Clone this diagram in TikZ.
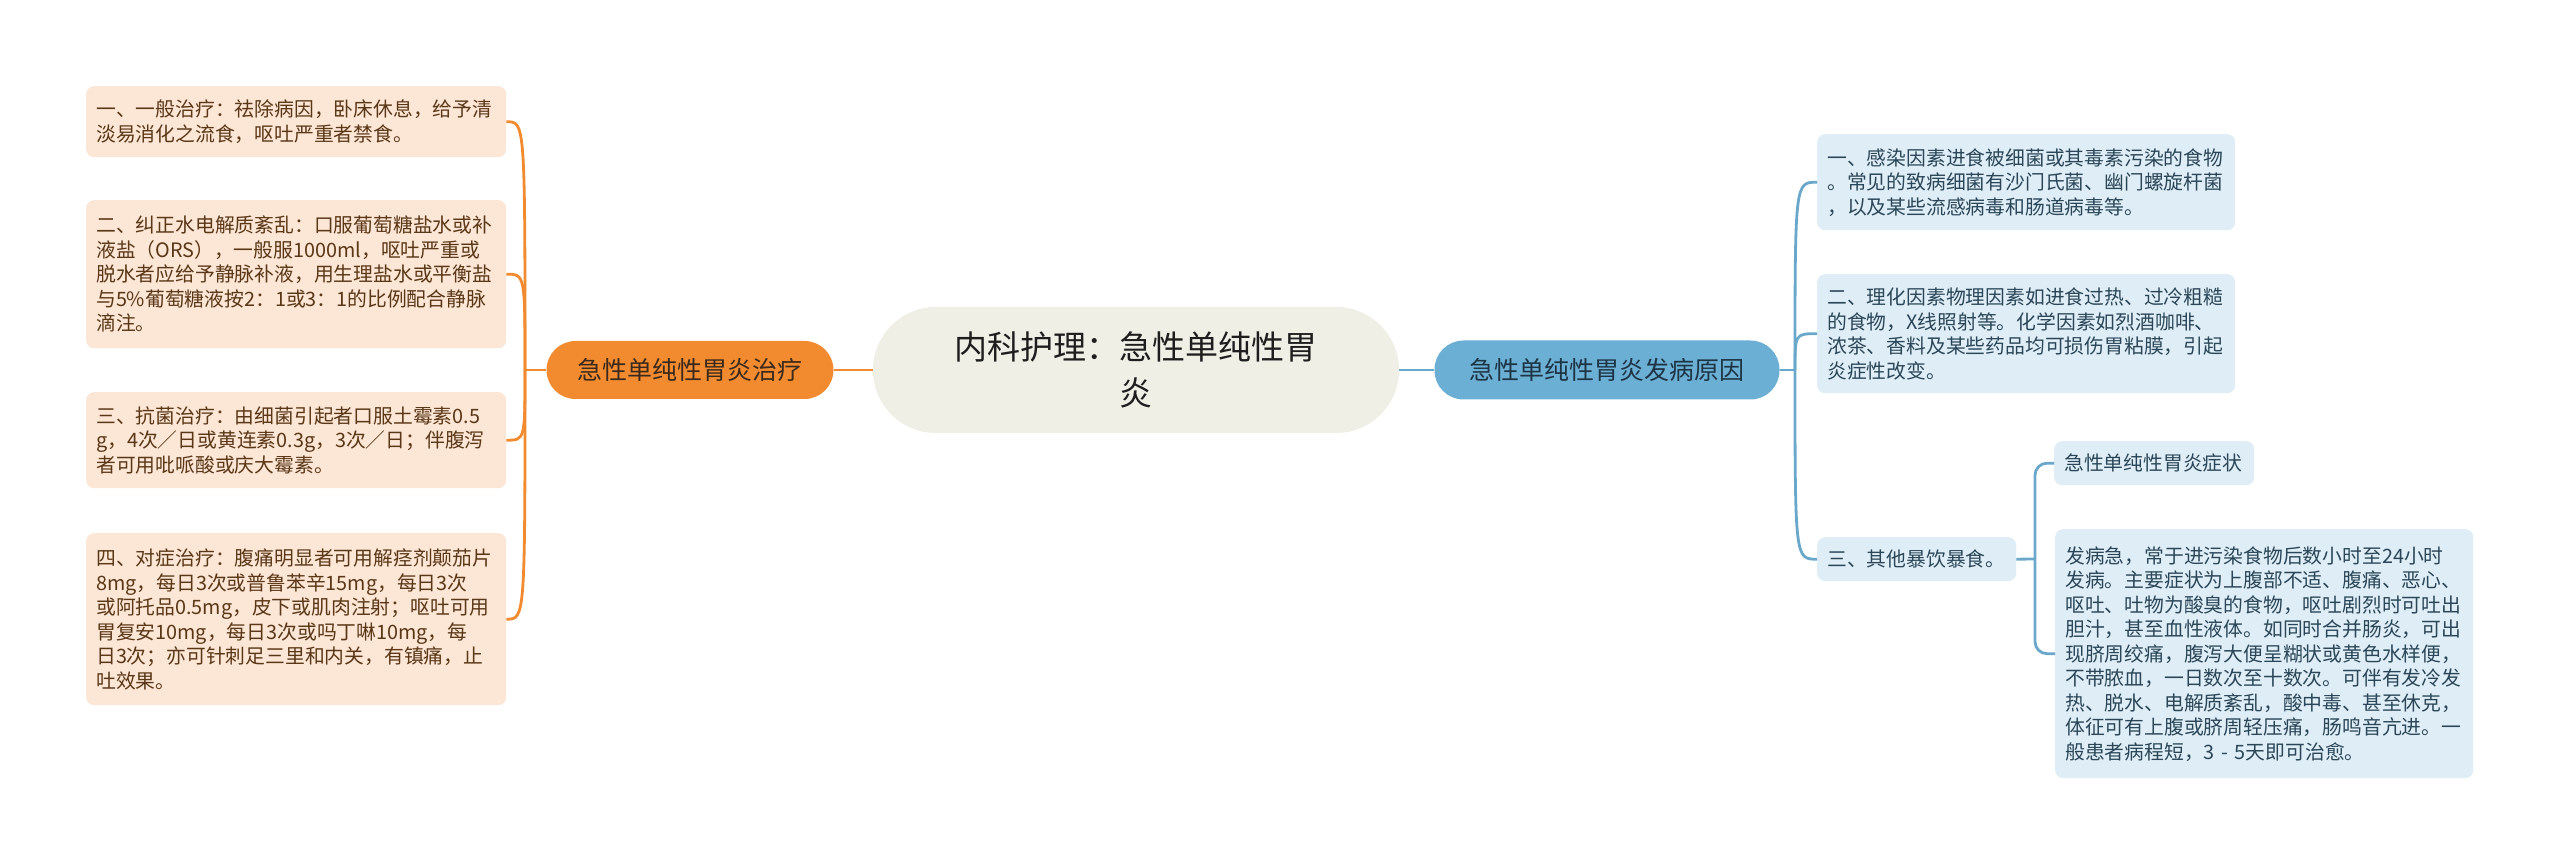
\documentclass[tikz,border=0pt]{standalone}
\usepackage{fontspec}
\setmainfont{Noto Sans CJK SC}
\definecolor{obox}{HTML}{FCE6D5}
\definecolor{otext}{HTML}{5A3717}
\definecolor{orng}{HTML}{F28B30}
\definecolor{ontext}{HTML}{3B2A1C}
\definecolor{cfill}{HTML}{EFEFE6}
\definecolor{ctext}{HTML}{1E1E1E}
\definecolor{bnode}{HTML}{6CAFD4}
\definecolor{bntext}{HTML}{1D3445}
\definecolor{bln}{HTML}{6AA8CB}
\definecolor{bbox}{HTML}{DFEEF6}
\definecolor{btext}{HTML}{2A4658}
\tikzset{
  lbox/.style={anchor=north west, fill=obox, text=otext, rounded corners=8pt,
    text width=400pt, inner xsep=10pt, inner ysep=2pt, align=left,
    font=\fontsize{19.8}{24.5}\selectfont},
  rbox/.style={anchor=north west, fill=bbox, text=btext, rounded corners=8pt,
    inner xsep=10pt, inner ysep=2pt, align=left,
    font=\fontsize{19.8}{24.5}\selectfont},
  oline/.style={draw=orng, line width=2.8pt},
  bline/.style={draw=bln, line width=2.8pt},
}
\begin{document}
\begin{tikzpicture}[x=1pt,y=-1pt]
\useasboundingbox[fill=white] (0,0) rectangle (2560,866);
% central
\node[fill=cfill, text=ctext, minimum width=526pt, minimum height=126pt, inner sep=0pt,
  rounded corners=63pt, align=center, font=\fontsize{33}{46}\selectfont]
  (c) at (1136,370) {内科护理：急性单纯性胃\\炎};
% orange branch
\node[fill=orng, text=ontext, minimum width=287pt, minimum height=58pt, inner sep=0pt,
  rounded corners=29pt, font=\fontsize{25}{30}\selectfont]
  (tr) at (690,370) {急性单纯性胃炎治疗};
% blue branch
\node[fill=bnode, text=bntext, minimum width=345pt, minimum height=59pt, inner sep=0pt,
  rounded corners=29pt, font=\fontsize{25}{30}\selectfont]
  (ca) at (1607,370) {急性单纯性胃炎发病原因};
% left boxes
\node[lbox, minimum height=71pt] (l1) at (86,86) {一、一般治疗：祛除病因，卧床休息，给予清\\淡易消化之流食，呕吐严重者禁食。};
\node[lbox, minimum height=148pt] (l2) at (86,200) {二、纠正水电解质紊乱：口服葡萄糖盐水或补\\液盐（ORS），一般服1000ml，呕吐严重或\\脱水者应给予静脉补液，用生理盐水或平衡盐\\与5\%葡萄糖液按2：1或3：1的比例配合静脉\\滴注。};
\node[lbox, minimum height=96pt] (l3) at (86,392) {三、抗菌治疗：由细菌引起者口服土霉素0.5\\g，4次／日或黄连素0.3g，3次／日；伴腹泻\\者可用吡哌酸或庆大霉素。};
\node[lbox, minimum height=172pt] (l4) at (86,533) {四、对症治疗：腹痛明显者可用解痉剂颠茄片\\8mg，每日3次或普鲁苯辛15mg，每日3次\\或阿托品0.5mg，皮下或肌肉注射；呕吐可用\\胃复安10mg，每日3次或吗丁啉10mg，每\\日3次；亦可针刺足三里和内关，有镇痛，止\\吐效果。};
% right boxes
\node[rbox, text width=398pt, minimum height=96pt] (r1) at (1817,134) {一、感染因素进食被细菌或其毒素污染的食物\\。常见的致病细菌有沙门氏菌、幽门螺旋杆菌\\，以及某些流感病毒和肠道病毒等。};
\node[rbox, text width=398pt, minimum height=119pt] (r2) at (1817,274) {二、理化因素物理因素如进食过热、过冷粗糙\\的食物，X线照射等。化学因素如烈酒咖啡、\\浓茶、香料及某些药品均可损伤胃粘膜，引起\\炎症性改变。};
\node[rbox, text width=179pt, minimum height=44pt] (r3) at (1817,537) {三、其他暴饮暴食。};
\node[rbox, text width=180pt, minimum height=44pt] (sy) at (2054,441) {急性单纯性胃炎症状};
\node[rbox, text width=398pt, minimum height=249pt] (bg) at (2055,529) {发病急，常于进污染食物后数小时至24小时\\发病。主要症状为上腹部不适、腹痛、恶心、\\呕吐、吐物为酸臭的食物，呕吐剧烈时可吐出\\胆汁，甚至血性液体。如同时合并肠炎，可出\\现脐周绞痛，腹泻大便呈糊状或黄色水样便，\\不带脓血，一日数次至十数次。可伴有发冷发\\热、脱水、电解质紊乱，酸中毒、甚至休克，\\体征可有上腹或脐周轻压痛，肠鸣音亢进。一\\般患者病程短，3 - 5天即可治愈。};
% junctions
\coordinate (lj) at (525,370);
\coordinate (rj) at (1795,370);
\coordinate (sj) at (2035,559);
% connectors
\draw[oline] (tr.east) -- (c.west);
\draw[bline] (c.east) -- (ca.west);
\draw[oline] (tr.west) -- (lj);
\foreach \n in {l1,l2,l3,l4}{
  \draw[oline] (lj) .. controls (lj |- \n.east) .. (\n.east);
}
\draw[bline] (ca.east) -- (rj);
\foreach \n in {r1,r2,r3}{
  \draw[bline] (rj) .. controls (rj |- \n.west) .. (\n.west);
}
\draw[bline] (r3.east) -- (sj);
\draw[bline, rounded corners=12pt] (sj) |- (sy.west);
\draw[bline, rounded corners=12pt] (sj) |- (bg.west);
\end{tikzpicture}
\end{document}
